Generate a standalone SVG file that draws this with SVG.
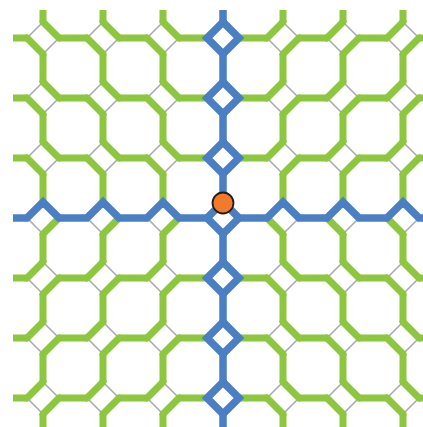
<svg xmlns="http://www.w3.org/2000/svg" xmlns:xlink="http://www.w3.org/1999/xlink" width="423" height="427" viewBox="0 0 423 427">
  <style>
    .gray{fill:none;stroke:#a8aab2;stroke-width:1.6}
    .green{fill:none;stroke:#8dc63f;stroke-width:7;stroke-linecap:round}
    .gline{fill:none;stroke:#8dc63f;stroke-width:7;stroke-dasharray:28 32}
    .blue{fill:none;stroke:#4a7fc3;stroke-width:7.5;stroke-linejoin:miter}
    .bline{fill:none;stroke:#4a7fc3;stroke-width:7.5;stroke-dasharray:28 32}
    .dot{fill:#f37a2a;stroke:#1e1e1e;stroke-width:1.8}
  </style>
  <defs>
    <path id="dA" d="M0,-16L16,0M-16,0L0,16"/>
    <path id="dB" d="M0,-16L-16,0M16,0L0,16"/>
    <path id="bl" d="M-16,0L0,16"/>
    <path id="br" d="M16,0L0,16"/>
    <path id="dia" d="M0,-16L16,0L0,16L-16,0Z"/>
    <g id="qA">
      <use href="#dA" x="0" y="0"/><use href="#dA" x="60" y="0"/><use href="#dA" x="120" y="0"/>
      <use href="#dA" x="0" y="60"/><use href="#dA" x="60" y="60"/><use href="#dA" x="120" y="60"/>
      <use href="#dA" x="0" y="120"/><use href="#dA" x="60" y="120"/><use href="#dA" x="120" y="120"/>
    </g>
    <g id="qB">
      <use href="#dB" x="0" y="0"/><use href="#dB" x="60" y="0"/><use href="#dB" x="120" y="0"/>
      <use href="#dB" x="0" y="60"/><use href="#dB" x="60" y="60"/><use href="#dB" x="120" y="60"/>
      <use href="#dB" x="0" y="120"/><use href="#dB" x="60" y="120"/><use href="#dB" x="120" y="120"/>
    </g>
  </defs>
  <rect width="423" height="427" fill="#ffffff"/>

  <g id="gray-sides" class="gray">
    <use href="#qB" x="43" y="38"/>
    <use href="#qA" x="283" y="38"/>
    <use href="#qA" x="43" y="278"/>
    <use href="#qB" x="283" y="278"/>
    <use href="#bl" x="43" y="218"/><use href="#bl" x="103" y="218"/><use href="#bl" x="163" y="218"/>
    <use href="#br" x="283" y="218"/><use href="#br" x="343" y="218"/><use href="#br" x="403" y="218"/>
  </g>

  <g id="connectors">
    <g id="green-connectors" class="gline" stroke-dashoffset="14">
      <line x1="13" y1="38" x2="423" y2="38"/>
      <line x1="13" y1="98" x2="423" y2="98"/>
      <line x1="13" y1="158" x2="423" y2="158"/>
      <line x1="13" y1="278" x2="423" y2="278"/>
      <line x1="13" y1="338" x2="423" y2="338"/>
      <line x1="13" y1="398" x2="423" y2="398"/>
    </g>
    <g class="gline" stroke-dashoffset="16">
      <line x1="43" y1="10" x2="43" y2="427"/>
      <line x1="103" y1="10" x2="103" y2="427"/>
      <line x1="163" y1="10" x2="163" y2="427"/>
      <line x1="283" y1="10" x2="283" y2="427"/>
      <line x1="343" y1="10" x2="343" y2="427"/>
      <line x1="403" y1="10" x2="403" y2="427"/>
    </g>
  </g>

  <g id="green-sides" class="green">
    <use href="#qA" x="43" y="38"/>
    <use href="#qB" x="283" y="38"/>
    <use href="#qB" x="43" y="278"/>
    <use href="#qA" x="283" y="278"/>
    <use href="#br" x="43" y="218"/><use href="#br" x="103" y="218"/><use href="#br" x="163" y="218"/>
    <use href="#bl" x="283" y="218"/><use href="#bl" x="343" y="218"/><use href="#bl" x="403" y="218"/>
  </g>

  <g id="blue-path" class="blue">
    <line class="bline" stroke-dashoffset="16" x1="223" y1="10" x2="223" y2="427"/>
    <path d="M13,218H27L43,202L59,218H87L103,202L119,218H147L163,202L179,218H207M239,218H267L283,202L299,218H327L343,202L359,218H387L403,202L419,218H423"/>
    <use href="#dia" x="223" y="38"/>
    <use href="#dia" x="223" y="98"/>
    <use href="#dia" x="223" y="158"/>
    <use href="#dia" x="223" y="218"/>
    <use href="#dia" x="223" y="278"/>
    <use href="#dia" x="223" y="338"/>
    <use href="#dia" x="223" y="398"/>
  </g>

  <g id="origin">
    <circle class="dot" cx="223" cy="203" r="10.5"/>
  </g>
</svg>
